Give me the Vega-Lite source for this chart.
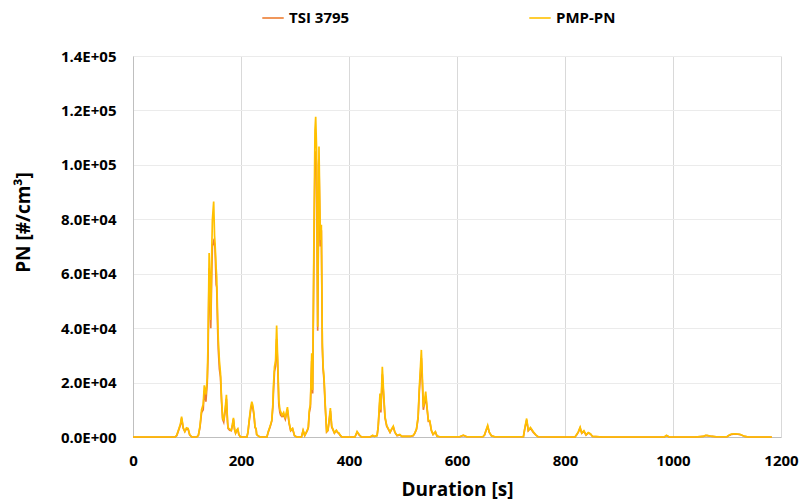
{
  "$schema": "https://vega.github.io/schema/vega-lite/v6.json",
  "width": 648,
  "height": 381,
  "autosize": {"type": "none"},
  "padding": {"left": 133, "top": 56, "right": 25, "bottom": 65},
  "background": "white",
  "config": {
    "view": {"stroke": null},
    "font": "Open Sans",
    "axis": {"labelFont": "Open Sans", "titleFont": "Open Sans", "labelFontWeight": "bold", "titleFontWeight": "bold", "labelColor": "#000000", "titleColor": "#000000"},
    "legend": {"labelFont": "Open Sans", "labelFontWeight": "bold", "labelColor": "#000000"}
  },
  "data": {
    "values": [
      {"t": 0, "p": 0, "s": 0},
      {"t": 30, "p": 0, "s": 0},
      {"t": 60, "p": 0, "s": 0},
      {"t": 78, "p": 0, "s": 0},
      {"t": 81, "p": 600, "s": 500},
      {"t": 85, "p": 3000, "s": 2800},
      {"t": 88, "p": 5000, "s": 4500},
      {"t": 90, "p": 7500, "s": 6800},
      {"t": 93, "p": 3500, "s": 3200},
      {"t": 96, "p": 2000, "s": 2000},
      {"t": 99, "p": 3400, "s": 3000},
      {"t": 102, "p": 3200, "s": 2900},
      {"t": 105, "p": 800, "s": 700},
      {"t": 109, "p": 0, "s": 0},
      {"t": 118, "p": 0, "s": 0},
      {"t": 121, "p": 600, "s": 500},
      {"t": 124, "p": 4000, "s": 3500},
      {"t": 127, "p": 10000, "s": 9000},
      {"t": 130, "p": 12000, "s": 10000},
      {"t": 132, "p": 19000, "s": 17000},
      {"t": 135, "p": 15600, "s": 13000},
      {"t": 137.5, "p": 21600, "s": 20000},
      {"t": 139, "p": 35000, "s": 30000},
      {"t": 141, "p": 67600, "s": 62000},
      {"t": 143, "p": 55000, "s": 48000},
      {"t": 144, "p": 43000, "s": 40000},
      {"t": 146, "p": 70000, "s": 62000},
      {"t": 147, "p": 79700, "s": 70000},
      {"t": 149.4, "p": 86500, "s": 72000},
      {"t": 151, "p": 74000, "s": 71000},
      {"t": 152, "p": 71000, "s": 69000},
      {"t": 154, "p": 62000, "s": 56000},
      {"t": 155, "p": 59000, "s": 55000},
      {"t": 157, "p": 42000, "s": 38000},
      {"t": 158, "p": 35600, "s": 32000},
      {"t": 160, "p": 28000, "s": 25000},
      {"t": 162, "p": 23500, "s": 22000},
      {"t": 164, "p": 14000, "s": 13000},
      {"t": 166, "p": 7000, "s": 6500},
      {"t": 168, "p": 6000, "s": 5500},
      {"t": 171, "p": 11000, "s": 10000},
      {"t": 173, "p": 15500, "s": 14000},
      {"t": 175, "p": 6000, "s": 5500},
      {"t": 176, "p": 3500, "s": 3200},
      {"t": 179, "p": 2800, "s": 2500},
      {"t": 182, "p": 2500, "s": 2300},
      {"t": 184, "p": 4500, "s": 4200},
      {"t": 186, "p": 7000, "s": 6500},
      {"t": 188, "p": 3000, "s": 2800},
      {"t": 190, "p": 1500, "s": 1400},
      {"t": 192, "p": 2500, "s": 2300},
      {"t": 194, "p": 3000, "s": 2800},
      {"t": 196, "p": 1000, "s": 900},
      {"t": 199, "p": 0, "s": 0},
      {"t": 211, "p": 0, "s": 0},
      {"t": 213, "p": 2000, "s": 1800},
      {"t": 215, "p": 5900, "s": 5500},
      {"t": 218, "p": 11000, "s": 10000},
      {"t": 220, "p": 13000, "s": 12000},
      {"t": 222, "p": 11500, "s": 10500},
      {"t": 224, "p": 8500, "s": 8000},
      {"t": 226, "p": 3800, "s": 3500},
      {"t": 228, "p": 3000, "s": 2800},
      {"t": 229, "p": 1000, "s": 900},
      {"t": 231, "p": 600, "s": 500},
      {"t": 235, "p": 0, "s": 0},
      {"t": 248, "p": 0, "s": 0},
      {"t": 250.5, "p": 2000, "s": 1800},
      {"t": 254, "p": 4000, "s": 3800},
      {"t": 257, "p": 6200, "s": 5800},
      {"t": 259, "p": 12000, "s": 11000},
      {"t": 260, "p": 18500, "s": 16000},
      {"t": 262, "p": 25800, "s": 24000},
      {"t": 264, "p": 28000, "s": 26000},
      {"t": 266, "p": 41000, "s": 36000},
      {"t": 268, "p": 28000, "s": 26000},
      {"t": 270, "p": 13600, "s": 12000},
      {"t": 272, "p": 10000, "s": 9000},
      {"t": 273.5, "p": 9300, "s": 8000},
      {"t": 276, "p": 8000, "s": 7500},
      {"t": 279, "p": 9000, "s": 8000},
      {"t": 282, "p": 6800, "s": 6500},
      {"t": 284, "p": 9000, "s": 8500},
      {"t": 286, "p": 11000, "s": 10000},
      {"t": 289, "p": 5500, "s": 5000},
      {"t": 292, "p": 2500, "s": 2300},
      {"t": 295.5, "p": 3200, "s": 3000},
      {"t": 299, "p": 600, "s": 500},
      {"t": 303, "p": 0, "s": 0},
      {"t": 312, "p": 0, "s": 0},
      {"t": 315, "p": 2500, "s": 2300},
      {"t": 318, "p": 600, "s": 500},
      {"t": 322.8, "p": 2500, "s": 2300},
      {"t": 324.7, "p": 3800, "s": 3500},
      {"t": 326.5, "p": 10000, "s": 9000},
      {"t": 328.5, "p": 12000, "s": 11000},
      {"t": 331, "p": 30800, "s": 28000},
      {"t": 332.7, "p": 17300, "s": 16000},
      {"t": 335.2, "p": 77300, "s": 70000},
      {"t": 337, "p": 112800, "s": 100000},
      {"t": 338.3, "p": 117700, "s": 105000},
      {"t": 340, "p": 105500, "s": 100000},
      {"t": 342, "p": 40500, "s": 39000},
      {"t": 344.4, "p": 106700, "s": 100000},
      {"t": 346, "p": 85000, "s": 80000},
      {"t": 347, "p": 72400, "s": 70000},
      {"t": 348.8, "p": 78000, "s": 76000},
      {"t": 350.6, "p": 34500, "s": 33000},
      {"t": 352, "p": 26000, "s": 25000},
      {"t": 353.7, "p": 22200, "s": 21000},
      {"t": 356, "p": 12000, "s": 11000},
      {"t": 358.6, "p": 2000, "s": 1800},
      {"t": 361, "p": 2500, "s": 2300},
      {"t": 363, "p": 6000, "s": 5500},
      {"t": 365.5, "p": 10600, "s": 9500},
      {"t": 368, "p": 4000, "s": 3700},
      {"t": 370, "p": 3000, "s": 2800},
      {"t": 373, "p": 1500, "s": 1400},
      {"t": 376.5, "p": 2500, "s": 2300},
      {"t": 379, "p": 1800, "s": 1600},
      {"t": 381, "p": 1500, "s": 1400},
      {"t": 384, "p": 600, "s": 500},
      {"t": 387, "p": 0, "s": 0},
      {"t": 401, "p": 0, "s": 0},
      {"t": 411, "p": 0, "s": 0},
      {"t": 415, "p": 2000, "s": 1800},
      {"t": 419, "p": 800, "s": 700},
      {"t": 423, "p": 0, "s": 0},
      {"t": 439, "p": 0, "s": 0},
      {"t": 444, "p": 600, "s": 500},
      {"t": 447, "p": 200, "s": 200},
      {"t": 452, "p": 500, "s": 500},
      {"t": 454, "p": 3800, "s": 3500},
      {"t": 457.4, "p": 16000, "s": 14000},
      {"t": 459, "p": 10000, "s": 9000},
      {"t": 461.7, "p": 25800, "s": 23000},
      {"t": 464, "p": 17000, "s": 15500},
      {"t": 466.7, "p": 7500, "s": 7000},
      {"t": 469.8, "p": 4300, "s": 4000},
      {"t": 473, "p": 3000, "s": 2800},
      {"t": 476, "p": 1800, "s": 1700},
      {"t": 479, "p": 3000, "s": 2800},
      {"t": 482, "p": 4000, "s": 3700},
      {"t": 485, "p": 1800, "s": 1700},
      {"t": 489, "p": 600, "s": 500},
      {"t": 494, "p": 900, "s": 800},
      {"t": 498, "p": 200, "s": 200},
      {"t": 505, "p": 200, "s": 200},
      {"t": 513, "p": 200, "s": 200},
      {"t": 519, "p": 600, "s": 500},
      {"t": 522, "p": 1500, "s": 1400},
      {"t": 525, "p": 3000, "s": 2800},
      {"t": 528, "p": 7500, "s": 7000},
      {"t": 530, "p": 17300, "s": 16000},
      {"t": 532, "p": 24500, "s": 22000},
      {"t": 534, "p": 32000, "s": 29000},
      {"t": 536, "p": 21000, "s": 19000},
      {"t": 537.7, "p": 11000, "s": 10000},
      {"t": 540, "p": 13500, "s": 12500},
      {"t": 542, "p": 16700, "s": 15000},
      {"t": 545, "p": 10000, "s": 9500},
      {"t": 547, "p": 6000, "s": 5700},
      {"t": 549.6, "p": 6000, "s": 5700},
      {"t": 552.6, "p": 2500, "s": 2300},
      {"t": 555.7, "p": 1000, "s": 900},
      {"t": 560, "p": 2000, "s": 1800},
      {"t": 563, "p": 300, "s": 300},
      {"t": 568, "p": 100, "s": 100},
      {"t": 590, "p": 100, "s": 100},
      {"t": 605, "p": 100, "s": 100},
      {"t": 611.7, "p": 700, "s": 600},
      {"t": 618, "p": 100, "s": 100},
      {"t": 648, "p": 100, "s": 100},
      {"t": 651, "p": 800, "s": 700},
      {"t": 653.7, "p": 2500, "s": 2300},
      {"t": 656.8, "p": 4300, "s": 3900},
      {"t": 659.8, "p": 1800, "s": 1700},
      {"t": 664, "p": 400, "s": 400},
      {"t": 670, "p": 100, "s": 100},
      {"t": 700, "p": 100, "s": 100},
      {"t": 723, "p": 100, "s": 100},
      {"t": 726, "p": 3800, "s": 3500},
      {"t": 729, "p": 6800, "s": 6200},
      {"t": 732, "p": 2500, "s": 2300},
      {"t": 736, "p": 3500, "s": 3200},
      {"t": 741, "p": 2000, "s": 1800},
      {"t": 746, "p": 800, "s": 700},
      {"t": 750, "p": 100, "s": 100},
      {"t": 780, "p": 0, "s": 0},
      {"t": 818.5, "p": 0, "s": 0},
      {"t": 822, "p": 1000, "s": 900},
      {"t": 824.7, "p": 2000, "s": 1800},
      {"t": 828, "p": 3600, "s": 3300},
      {"t": 831, "p": 1500, "s": 1400},
      {"t": 835, "p": 2300, "s": 2100},
      {"t": 839, "p": 800, "s": 700},
      {"t": 843, "p": 1600, "s": 1500},
      {"t": 847, "p": 1200, "s": 1100},
      {"t": 851, "p": 200, "s": 200},
      {"t": 870, "p": 0, "s": 0},
      {"t": 900, "p": 0, "s": 0},
      {"t": 950, "p": 0, "s": 0},
      {"t": 984, "p": 0, "s": 0},
      {"t": 988, "p": 600, "s": 500},
      {"t": 993, "p": 0, "s": 0},
      {"t": 1040, "p": 0, "s": 0},
      {"t": 1056, "p": 200, "s": 200},
      {"t": 1060, "p": 600, "s": 500},
      {"t": 1063, "p": 600, "s": 500},
      {"t": 1069, "p": 300, "s": 300},
      {"t": 1080, "p": 100, "s": 100},
      {"t": 1100, "p": 100, "s": 100},
      {"t": 1105, "p": 800, "s": 700},
      {"t": 1108.7, "p": 1100, "s": 1000},
      {"t": 1115, "p": 1200, "s": 1100},
      {"t": 1120, "p": 1100, "s": 1000},
      {"t": 1124, "p": 1000, "s": 900},
      {"t": 1133, "p": 200, "s": 200},
      {"t": 1140, "p": 0, "s": 0},
      {"t": 1160, "p": 0, "s": 0},
      {"t": 1183, "p": 0, "s": 0}
    ]
  },
  "layer": [
    {
      "mark": {"type": "line", "strokeWidth": 1.7, "interpolate": "linear"},
      "encoding": {
        "x": {
          "field": "t", "type": "quantitative",
          "scale": {"domain": [0, 1200], "nice": false},
          "axis": {
            "values": [0, 200, 400, 600, 800, 1000, 1200], "format": "d",
            "grid": true, "gridColor": "#d9d9d9", "gridWidth": 1,
            "ticks": false, "domainColor": "#bfbfbf", "domainWidth": 1,
            "labelFontSize": 15, "labelPadding": 16, "labelFlush": false,
            "title": "Duration [s]", "titleFontSize": 19, "titlePadding": 12
          }
        },
        "y": {
          "field": "s", "type": "quantitative",
          "scale": {"domain": [0, 140000], "nice": false},
          "axis": {
            "values": [0, 20000, 40000, 60000, 80000, 100000, 120000, 140000],
            "grid": true, "gridColor": "#ebebeb", "gridWidth": 1,
            "ticks": false, "domainColor": "#bfbfbf", "domainWidth": 1,
            "labelFontSize": 15, "labelPadding": 17,
            "labelExpr": "replace(format(datum.value, '.1e'), 'e+', 'E+0')",
            "title": "PN [#/cm³]", "titleFontSize": 19,
            "titleX": -100, "titleY": 166
          }
        },
        "color": {
          "datum": "TSI 3795",
          "type": "nominal",
          "scale": {"domain": ["TSI 3795", "PMP-PN"], "range": ["#ED7D31", "#FFC000"]},
          "legend": {
            "orient": "none", "legendX": 128, "legendY": -50,
            "direction": "horizontal", "title": null,
            "symbolType": "stroke", "symbolSize": 460, "symbolStrokeWidth": 1.6,
            "labelFontSize": 15, "labelOffset": 4, "columnPadding": 176
          }
        }
      }
    },
    {
      "mark": {"type": "line", "strokeWidth": 1.7, "interpolate": "linear"},
      "encoding": {
        "x": {
          "field": "t", "type": "quantitative",
          "axis": {
            "values": [0, 200, 400, 600, 800, 1000, 1200], "format": "d",
            "grid": true, "gridColor": "#d9d9d9", "gridWidth": 1,
            "ticks": false, "domainColor": "#bfbfbf", "domainWidth": 1,
            "labelFontSize": 15, "labelPadding": 16, "labelFlush": false,
            "title": "Duration [s]", "titleFontSize": 19, "titlePadding": 12
          }
        },
        "y": {
          "field": "p", "type": "quantitative",
          "axis": {
            "values": [0, 20000, 40000, 60000, 80000, 100000, 120000, 140000],
            "grid": true, "gridColor": "#ebebeb", "gridWidth": 1,
            "ticks": false, "domainColor": "#bfbfbf", "domainWidth": 1,
            "labelFontSize": 15, "labelPadding": 17,
            "labelExpr": "replace(format(datum.value, '.1e'), 'e+', 'E+0')",
            "title": "PN [#/cm³]", "titleFontSize": 19,
            "titleX": -100, "titleY": 166
          }
        },
        "color": {"datum": "PMP-PN", "type": "nominal"}
      }
    }
  ]
}
